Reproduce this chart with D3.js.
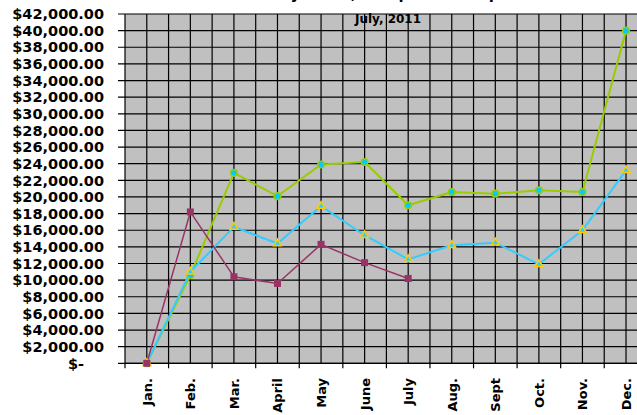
<!DOCTYPE html>
<html><head><meta charset="utf-8">
<script src="https://cdn.jsdelivr.net/npm/d3@7"></script>
<style>
html,body{margin:0;padding:0;background:#fff;overflow:hidden}
text{font-family:"Comic Sans MS","DejaVu Sans",sans-serif;font-weight:bold;fill:#000}
</style></head>
<body>
<svg id="chart" width="637" height="415"></svg>
<script>
const months = ["Jan.","Feb.","Mar.","April","May","June","July","Aug.","Sept","Oct.","Nov.","Dec."];
const seriesGreen = [0,10600,22900,20100,23900,24200,19000,20600,20400,20800,20600,40000];
const seriesCyan  = [0,11000,16400,14400,18900,15400,12500,14200,14500,11900,16000,23200];
const seriesMaroon= [0,18200,10400,9600,14300,12100,10200];
const yTicks = d3.range(0, 42001, 2000);
const titleMain = "Monthly Sales, Comparison Report";
const subTitle = "July, 2011";

(function(){
const svg = d3.select("#chart");
const pL = 125, pR = 647.8, pT = 14, pB = 363.3;

const xBand = d3.scaleBand().domain(months).range([pL, pR]).padding(0);
const xc = m => xBand(m) + xBand.bandwidth()/2;
const y = d3.scaleLinear().domain([0, 42000]).range([pB, pT]);

svg.append("rect").attr("x", pL).attr("y", pT).attr("width", pR-pL).attr("height", pB-pT).attr("fill", "#C0C0C0");

const g = svg.append("g");
yTicks.forEach(t => {
  g.append("line").attr("x1", pL-7).attr("x2", pR).attr("y1", y(t)).attr("y2", y(t))
   .attr("stroke", "#000").attr("stroke-width", 1.2);
});
months.forEach(m => {
  [xBand(m), xc(m)].forEach(px => {
    g.append("line").attr("x1", px).attr("x2", px).attr("y1", pT).attr("y2", pB)
     .attr("stroke", "#000").attr("stroke-width", 1.2);
  });
  g.append("line").attr("x1", xBand(m)).attr("x2", xBand(m)).attr("y1", pB).attr("y2", pB+5)
   .attr("stroke", "#000").attr("stroke-width", 1.2);
});
g.append("line").attr("x1", pL).attr("x2", pR).attr("y1", pB).attr("y2", pB).attr("stroke", "#000").attr("stroke-width", 1.2);

const fmt = d3.format(",.2f");
yTicks.forEach(t => {
  svg.append("text").attr("x", t === 0 ? 84 : 104).attr("y", y(t)).attr("dy", "0.36em")
    .attr("text-anchor", "end").attr("font-size", 14.5)
    .text(t === 0 ? "$-" : "$" + fmt(t));
});

months.forEach(m => {
  svg.append("text")
    .attr("transform", `translate(${xc(m)+5},378) rotate(-90)`)
    .attr("text-anchor", "end").attr("font-size", 13).text(m);
});

svg.append("text").attr("x", 378).attr("y", -1).attr("text-anchor", "middle").attr("font-size", 15).text(titleMain);
svg.append("text").attr("x", 388).attr("y", 23).attr("text-anchor", "middle").attr("font-size", 12).text(subTitle);

const line = d3.line().x((d,i) => xc(months[i])).y(d => y(d));
svg.append("path").datum(seriesGreen).attr("d", line).attr("fill","none").attr("stroke","#99CC00").attr("stroke-width",2);
svg.append("path").datum(seriesCyan).attr("d", line).attr("fill","none").attr("stroke","#33CCFF").attr("stroke-width",2);
svg.append("path").datum(seriesMaroon).attr("d", line).attr("fill","none").attr("stroke","#993366").attr("stroke-width",1.5);

seriesGreen.forEach((v,i) => {
  svg.append("circle").attr("cx", xc(months[i])).attr("cy", y(v)).attr("r", 3.3)
    .attr("fill", "#00CCFF").attr("stroke", "#99CC00").attr("stroke-width", 1.5);
});
const tri = d3.symbol().type(d3.symbolTriangle).size(26);
seriesCyan.forEach((v,i) => {
  svg.append("path").attr("d", tri()).attr("transform", `translate(${xc(months[i])},${y(v)})`)
    .attr("fill", "#33CCFF").attr("stroke", "#FFCC00").attr("stroke-width", 1.5);
});
seriesMaroon.forEach((v,i) => {
  svg.append("rect").attr("x", xc(months[i])-3.5).attr("y", y(v)-3.5).attr("width", 7).attr("height", 7)
    .attr("fill", "#993366");
});
})();
</script>
</body></html>
